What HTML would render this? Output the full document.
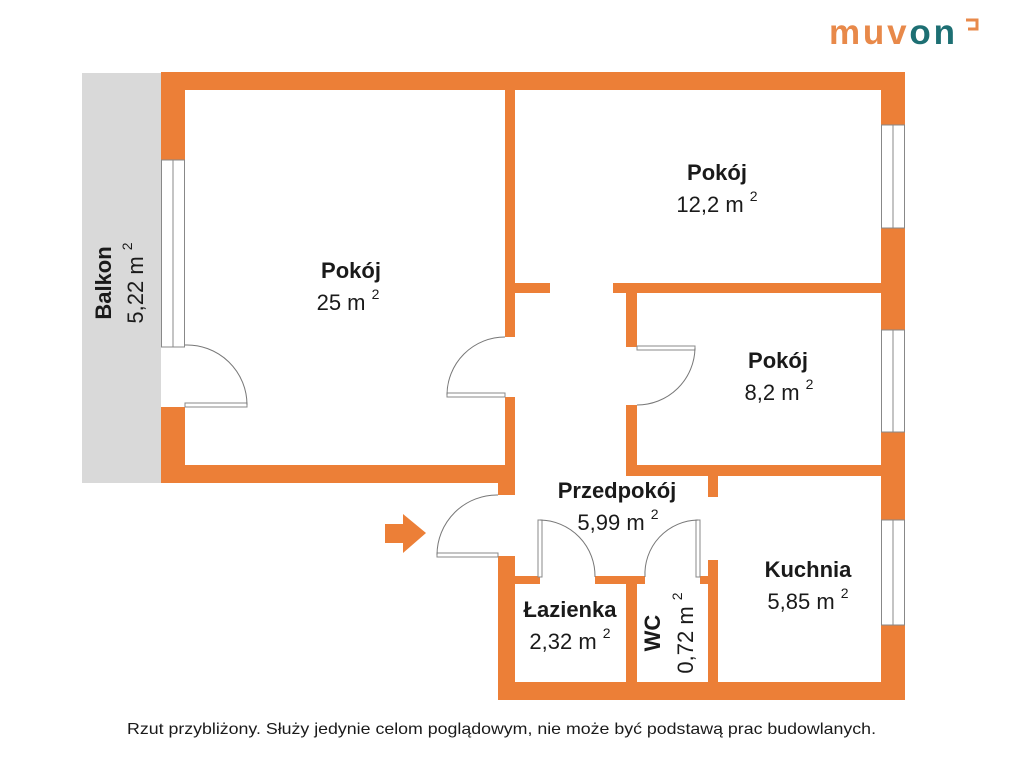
<!DOCTYPE html>
<html><head><meta charset="utf-8"><style>
html,body{margin:0;padding:0;background:#fff;}
svg{display:block}
text{font-family:"Liberation Sans",sans-serif;fill:#1a1a1a}
.b{font-weight:bold;font-size:22px}
.n{font-size:22px}
.s{font-size:14px}
</style></head><body>
<svg width="1024" height="768" viewBox="0 0 1024 768" xmlns="http://www.w3.org/2000/svg">
<!-- logo -->
<text x="829" y="44" textLength="126" style="font-size:35px;font-weight:bold;fill:#e8894a">muv<tspan style="fill:#1d6f73">on</tspan></text>
<path d="M966 20 L977 20 L977 29 L968 29" stroke="#e8894a" stroke-width="3" fill="none"/>
<!-- balcony -->
<rect x="82" y="73" width="79" height="410" fill="#d9d9d9"/>
<g fill="#ec7f37">
<rect x="161" y="72" width="744" height="18"/>
<rect x="161" y="72" width="24" height="88"/>
<rect x="161" y="407" width="24" height="76"/>
<rect x="161" y="465" width="354" height="18"/>
<rect x="881" y="72" width="24" height="53"/>
<rect x="881" y="228" width="24" height="102"/>
<rect x="881" y="432" width="24" height="88"/>
<rect x="881" y="625" width="24" height="75"/>
<rect x="505" y="90" width="10" height="247"/>
<rect x="505" y="397" width="10" height="98"/>
<rect x="498" y="483" width="17" height="12"/>
<rect x="515" y="283" width="35" height="10"/>
<rect x="613" y="283" width="268" height="10"/>
<rect x="626" y="293" width="11" height="54"/>
<rect x="626" y="405" width="11" height="70"/>
<rect x="626" y="465" width="255" height="11"/>
<rect x="708" y="475" width="10" height="22"/>
<rect x="498" y="556" width="17" height="144"/>
<rect x="498" y="682" width="407" height="18"/>
<rect x="515" y="576" width="25" height="8"/>
<rect x="595" y="576" width="50" height="8"/>
<rect x="700" y="576" width="10" height="8"/>
<rect x="626" y="583" width="11" height="100"/>
<rect x="708" y="560" width="10" height="122"/>
<rect x="385" y="524" width="20" height="19"/>
<polygon points="403,514 426,533 403,553"/>
</g>
<g fill="#fff" stroke="#888" stroke-width="1">
<rect x="161.5" y="160" width="23" height="187"/>
<line x1="173" y1="160" x2="173" y2="347"/>
<rect x="881.5" y="125" width="23" height="103"/>
<line x1="893" y1="125" x2="893" y2="228"/>
<rect x="881.5" y="330" width="23" height="102"/>
<line x1="893" y1="330" x2="893" y2="432"/>
<rect x="881.5" y="520" width="23" height="105"/>
<line x1="893" y1="520" x2="893" y2="625"/>
<rect x="185" y="403" width="62" height="4"/>
<rect x="447" y="393" width="58" height="4"/>
<rect x="637" y="346" width="58" height="4"/>
<rect x="437" y="553" width="61" height="4"/>
<rect x="538" y="520" width="4" height="57"/>
<rect x="696" y="520" width="4" height="57"/>
</g>
<g fill="none" stroke="#777" stroke-width="1">
<path d="M185 345 A60 60 0 0 1 247 405"/>
<path d="M505 337 A58 58 0 0 0 447 395"/>
<path d="M695 348 A58 58 0 0 1 637 405"/>
<path d="M498 495 A60 60 0 0 0 437 555"/>
<path d="M540 520 A56 56 0 0 1 595 577"/>
<path d="M698 520 A54 54 0 0 0 645 577"/>
</g>
<text class="b" x="351" y="278" text-anchor="middle">Pokój</text>
<text class="n" x="348" y="310" text-anchor="middle">25 m <tspan class="s" dy="-11">2</tspan></text>
<text class="b" x="717" y="180" text-anchor="middle">Pokój</text>
<text class="n" x="717" y="212" text-anchor="middle">12,2 m <tspan class="s" dy="-11">2</tspan></text>
<text class="b" x="778" y="368" text-anchor="middle">Pokój</text>
<text class="n" x="779" y="400" text-anchor="middle">8,2 m <tspan class="s" dy="-11">2</tspan></text>
<text class="b" x="617" y="498" text-anchor="middle">Przedpokój</text>
<text class="n" x="618" y="530" text-anchor="middle">5,99 m <tspan class="s" dy="-11">2</tspan></text>
<text class="b" x="808" y="577" text-anchor="middle">Kuchnia</text>
<text class="n" x="808" y="609" text-anchor="middle">5,85 m <tspan class="s" dy="-11">2</tspan></text>
<text class="b" x="570" y="617" text-anchor="middle">Łazienka</text>
<text class="n" x="570" y="649" text-anchor="middle">2,32 m <tspan class="s" dy="-11">2</tspan></text>
<text class="b" transform="translate(660,633) rotate(-90)" text-anchor="middle">WC</text>
<text class="n" transform="translate(693,633) rotate(-90)" text-anchor="middle">0,72 m <tspan class="s" dy="-11">2</tspan></text>
<text class="b" transform="translate(111,283) rotate(-90)" text-anchor="middle">Balkon</text>
<text class="n" transform="translate(143,283) rotate(-90)" text-anchor="middle">5,22 m <tspan class="s" dy="-11">2</tspan></text>
<text x="127" y="734" textLength="749" lengthAdjust="spacingAndGlyphs" style="font-size:16px">Rzut przybliżony. Służy jedynie celom poglądowym, nie może być podstawą prac budowlanych.</text>
</svg>
</body></html>
